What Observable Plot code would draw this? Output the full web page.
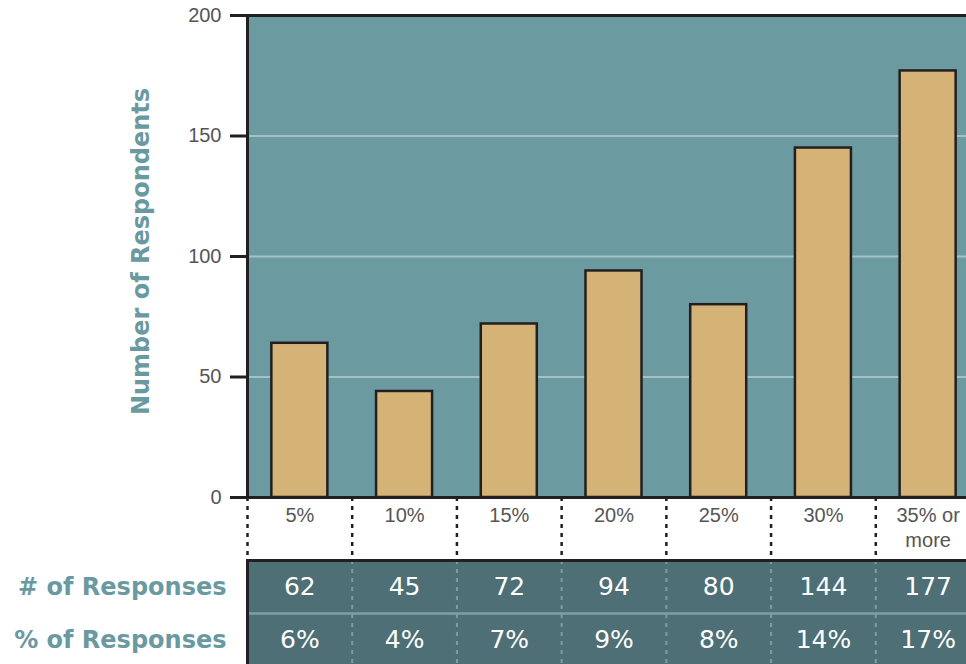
<!DOCTYPE html>
<html><head><meta charset="utf-8">
<script src="https://cdn.jsdelivr.net/npm/d3@7"></script>
<script src="https://cdn.jsdelivr.net/npm/@observablehq/plot@0.6"></script>
<style>
html,body{margin:0;padding:0;background:#fff;overflow:hidden;}
#chart svg{display:block;}
</style>
</head><body><div id="chart"></div>
<script>
// ---- data ----
const categories = ["5%", "10%", "15%", "20%", "25%", "30%", "35% or more"];
const barHeights = [64, 44, 72, 94, 80, 145, 177];
const responseCounts = [62, 45, 72, 94, 80, 144, 177];
const responsePercents = ["6%", "4%", "7%", "9%", "8%", "14%", "17%"];
const rowLabels = ["# of Responses", "% of Responses"];
const yTicks = [0, 50, 100, 150, 200];
const gridValues = [50, 100, 150];
const yTitle = "Number of Respondents";

// ---- style ----
const BG = "#6b9aa1", BAR = "#d5b275", DARK = "#231f20", GRID = "#a3c2c5";
const TABLE_BG = "#4e6f76", TEAL = "#6a9aa1", TICKTXT = "#555555";
const W = 990, ML = 247, MR = 10;
const step = (W - ML - MR) / categories.length;
const xOpts = {type: "band", domain: categories, paddingInner: 0.465, paddingOuter: 0.2325, round: false};
const svgStyle = {maxWidth: "none", overflow: "visible", background: "transparent", fontFamily: "'Liberation Sans', Arial, sans-serif"};

const bars = categories.map((c, i) => ({cat: c, value: barHeights[i]}));

const chart = Plot.plot({
  width: W, height: 560, marginLeft: ML, marginRight: MR, marginTop: 15, marginBottom: 63,
  style: svgStyle,
  x: {...xOpts, axis: null},
  y: {domain: [0, 200], axis: null},
  marks: [
    Plot.frame({fill: BG, stroke: null}),
    Plot.ruleY(gridValues, {stroke: GRID, strokeWidth: 2}),
    Plot.barY(bars, {x: "cat", y: "value", fill: BAR, stroke: DARK, strokeWidth: 2.5}),
    Plot.frame({stroke: DARK, strokeWidth: 3}),
    Plot.ruleX(categories, {x: d => d, dx: -step / 2, insetTop: 482, insetBottom: -63, stroke: DARK, strokeWidth: 2.5, strokeDasharray: "4,5"}),
    Plot.axisY({ticks: yTicks, tickSize: 17, tickPadding: 9, stroke: DARK, strokeWidth: 3, fill: TICKTXT, fontSize: 20, label: null}),
    Plot.axisX({tickSize: 0, tickPadding: 7, fill: TICKTXT, fontSize: 20, lineHeight: 1.25, tickFormat: d => d.replace(" or ", " or\n"), label: null}),
    Plot.text([yTitle], {text: d => d, frameAnchor: "left", textAnchor: "middle", rotate: -90, dx: -106, dy: -5, fontSize: 24, fontWeight: "bold", fill: TEAL, fontFamily: "DejaVu Sans"})
  ]
});

const rows = [];
categories.forEach((c, i) => {
  rows.push({cat: c, row: rowLabels[0], label: String(responseCounts[i])});
  rows.push({cat: c, row: rowLabels[1], label: responsePercents[i]});
});

const table = Plot.plot({
  width: W, height: 110, marginLeft: ML, marginRight: MR, marginTop: 0, marginBottom: 0,
  style: svgStyle,
  x: {...xOpts, axis: null},
  y: {type: "band", domain: rowLabels, range: [0, 106], padding: 0, round: false, axis: null},
  marks: [
    Plot.frame({fill: TABLE_BG, stroke: null}),
    Plot.ruleY([rowLabels[1]], {y: d => d, dy: -26.5, stroke: "#7f9fa4", strokeWidth: 2.5}),
    Plot.ruleX(categories.slice(1), {x: d => d, dx: -step / 2, stroke: "#7f9ca1", strokeWidth: 2, strokeDasharray: "4,5"}),
    Plot.text(rows, {x: "cat", y: "row", text: "label", fill: "white", fontSize: 25, fontFamily: "DejaVu Sans"}),
    Plot.frame({stroke: DARK, strokeWidth: 3}),
    Plot.axisY({tickSize: 0, tickPadding: 21, fontSize: 24, fontWeight: "bold", fill: TEAL, fontFamily: "DejaVu Sans", label: null})
  ]
});

const root = document.getElementById("chart");
root.appendChild(chart);
root.appendChild(table);
</script>
</body></html>
